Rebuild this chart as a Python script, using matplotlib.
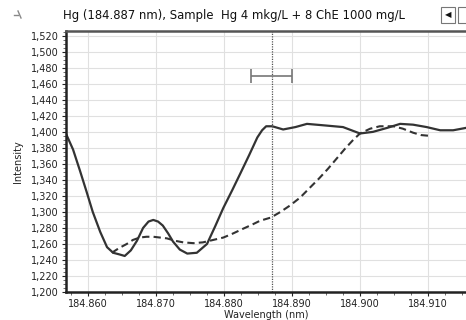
import matplotlib
matplotlib.use("Agg")
import matplotlib.pyplot as plt
from matplotlib.ticker import MultipleLocator, FuncFormatter
from matplotlib.patches import Rectangle
from matplotlib.lines import Line2D

plt.rcParams['font.family'] = ['DejaVu Sans']

title = "Hg (184.887 nm), Sample  Hg 4 mkg/L + 8 ChE 1000 mg/L"
xlabel = "Wavelength (nm)"
ylabel = "Intensity"

solid_wl = [184.8568, 184.8578, 184.8588, 184.8598, 184.8607, 184.8618, 184.8628, 184.8637,
            184.8646, 184.8654, 184.8663, 184.8672, 184.8681, 184.8689, 184.8696, 184.8703,
            184.8710, 184.8718, 184.8725, 184.8735, 184.8746, 184.8760, 184.8775, 184.8787,
            184.8799, 184.8812, 184.8824, 184.8837, 184.8849, 184.8856, 184.8862, 184.8871,
            184.8887, 184.8905, 184.8922, 184.8949, 184.8975, 184.9000, 184.9019, 184.9040,
            184.9059, 184.9078, 184.9098, 184.9118, 184.9137, 184.9156]
solid_val = [1397, 1378, 1352, 1325, 1300, 1275, 1256, 1249,
             1247, 1245, 1252, 1264, 1280, 1288, 1290, 1288,
             1283, 1273, 1263, 1253, 1248, 1249, 1260, 1282,
             1305, 1327, 1348, 1371, 1393, 1402, 1407, 1407,
             1403, 1406, 1410, 1408, 1406, 1398, 1400, 1405,
             1410, 1409, 1406, 1402, 1402, 1405]

dash_wl = [184.8635, 184.8646, 184.8657, 184.8666, 184.8676, 184.8686, 184.8696, 184.8706,
           184.8716, 184.8728, 184.8740, 184.8755, 184.8769, 184.8784, 184.8799, 184.8813,
           184.8828, 184.8841, 184.8853, 184.8869, 184.8883, 184.8897, 184.8912, 184.8926,
           184.8940, 184.8953, 184.8966, 184.8978, 184.8990, 184.9000, 184.9015, 184.9029,
           184.9049, 184.9063, 184.9078, 184.9090, 184.9103]
dash_val = [1249, 1255, 1260, 1265, 1268, 1269, 1269, 1268,
            1267, 1264, 1262, 1261, 1262, 1265, 1268, 1273,
            1279, 1284, 1289, 1293, 1300, 1308, 1318, 1330,
            1342, 1354, 1367, 1379, 1390, 1398, 1404, 1407,
            1407, 1404, 1399, 1396, 1395]

marker_wl = 184.887
bar_center = 184.887
bar_half = 0.003
bar_y = 1470

fig = plt.figure(figsize=(4.66, 3.2), dpi=100)
ax = fig.add_axes([66/466, 1-292/320, 1-66/466, (292-31)/320])

ax.set_xlim(184.860 - 22/6800, 184.860 + 378/6800)
ax.set_ylim(1200, 1526)

ax.grid(True, color='#e0e0e0', linewidth=0.8)
ax.set_axisbelow(True)

ax.plot(solid_wl, solid_val, color='#333333', linewidth=1.6, solid_joinstyle='round')
ax.plot(dash_wl, dash_val, color='#333333', linewidth=1.5, linestyle=(0, (3.5, 2)))

ax.axvline(marker_wl, color='#555555', linewidth=0.9, linestyle=(0, (1, 1)))
ax.errorbar([bar_center], [bar_y], xerr=[bar_half], color='#777777', linewidth=1.2,
            capsize=5, capthick=1.2, fmt='none')

ax.xaxis.set_major_locator(MultipleLocator(0.010))
ax.xaxis.set_minor_locator(MultipleLocator(0.0025))
ax.yaxis.set_major_locator(MultipleLocator(20))
ax.yaxis.set_minor_locator(MultipleLocator(5))
ax.xaxis.set_major_formatter(FuncFormatter(lambda v, p: f"{v:.3f}"))
ax.yaxis.set_major_formatter(FuncFormatter(lambda v, p: f"{v:,.0f}"))
ax.tick_params(axis='both', labelsize=7, colors='#222222', length=3, width=0.8, pad=2)
ax.tick_params(which='minor', length=2, width=0.6, color='#555555')

for s in ['left', 'bottom', 'top']:
    ax.spines[s].set_linewidth(1.8)
    ax.spines[s].set_color('#222222')
ax.spines['top'].set_color('#555555')
ax.spines['right'].set_visible(False)

ax.set_xlabel(xlabel, fontsize=7, labelpad=1, color='#222222')
ax.set_ylabel(ylabel, fontsize=7, labelpad=6, color='#222222')

fig.text(234/466, 1-16/320, title, fontsize=8.4, ha='center', va='center', color='#111111')

# small pin icon at top left
fig.lines.append(Line2D([14/466, 18/466], [1-15/320, 1-15/320], transform=fig.transFigure,
                        color='#888888', linewidth=1.0))
fig.lines.append(Line2D([18/466, 21/466], [1-11/320, 1-18/320], transform=fig.transFigure,
                        color='#888888', linewidth=1.0))

fig.patches.append(Rectangle((441/466, 1-23/320), 14/466, 16/320, transform=fig.transFigure,
                             fill=False, edgecolor='#777777', linewidth=0.8))
fig.text(448/466, 1-15/320, "\u25C0", fontsize=6, ha='center', va='center', color='#111111')
fig.patches.append(Rectangle((458/466, 1-23/320), 10/466, 16/320, transform=fig.transFigure,
                             fill=False, edgecolor='#777777', linewidth=0.8))

fig.savefig("out.png", dpi=100)
